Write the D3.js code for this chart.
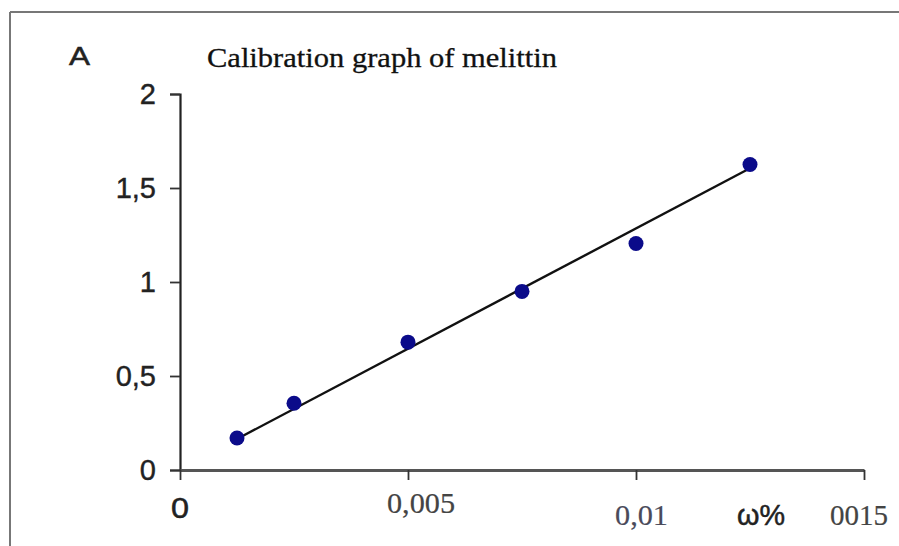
<!DOCTYPE html>
<html>
<head>
<meta charset="utf-8">
<script src="https://cdn.jsdelivr.net/npm/d3@7"></script>
<style>
  body { margin: 0; background: #fff; }
</style>
</head>
<body>
<svg id="chart" width="899" height="546"></svg>
<script>
// calibration data (concentration, absorbance)
var concentration = [0.00125, 0.0025, 0.005, 0.0075, 0.01, 0.0125];
var absorbance = [0.17, 0.355, 0.68, 0.95, 1.205, 1.625];
// fitted line end points
var fitX = [0.00125, 0.0125];
var fitY = [0.165, 1.605];
var yTicks = [0, 0.5, 1, 1.5, 2];
var xTicks = [0, 0.005, 0.01, 0.015];
var xTickLabels = ["0", "0,005", "0,01", "0015"];

var svg = d3.select("#chart");

// frame of the pasted figure
svg.append("line").attr("x1", 10).attr("y1", 12).attr("x2", 899).attr("y2", 12)
    .attr("stroke", "#777").attr("stroke-width", 2);
svg.append("line").attr("x1", 10).attr("y1", 12).attr("x2", 10).attr("y2", 546)
    .attr("stroke", "#777").attr("stroke-width", 2);

var x = d3.scaleLinear().domain([0, 0.015]).range([180, 864]);
var y = d3.scaleLinear().domain([0, 2]).range([470, 94]);

var yAxis = d3.axisLeft(y)
    .tickValues(yTicks)
    .tickSize(10)
    .tickPadding(14)
    .tickFormat(function(d) { return String(d).replace(".", ","); });

var gy = svg.append("g")
    .attr("transform", "translate(" + x(0) + ",0)")
    .call(yAxis);
gy.select(".domain").attr("stroke", "#222").attr("stroke-width", 2.2);
gy.selectAll(".tick line").attr("stroke", "#333").attr("stroke-width", 1.8);
gy.selectAll(".tick text")
    .attr("fill", "#222")
    .attr("stroke", "#222").attr("stroke-width", 0.4)
    .style("font-family", "Arial, 'Liberation Sans', sans-serif")
    .style("font-size", "29px");

var xAxis = d3.axisBottom(x)
    .tickValues(xTicks)
    .tickSize(10)
    .tickSizeOuter(0)
    .tickFormat("");

var gx = svg.append("g")
    .attr("transform", "translate(0," + y(0) + ")")
    .call(xAxis);
gx.select(".domain").attr("stroke", "#555").attr("stroke-width", 2.8);
gx.selectAll(".tick line").attr("stroke", "#333").attr("stroke-width", 1.8);

// x labels were typed in by hand, each in its own font and place
var xLabelStyle = [
    {dx: 0, y: 518, font: "Arial, 'Liberation Sans', sans-serif", size: 29, anchor: "middle", fill: "#222", len: 18, sw: 0.5},
    {dx: -21, y: 513, font: "'Times New Roman', 'Liberation Serif', serif", size: 30, anchor: "start", fill: "#444", len: 68, sw: 0.2},
    {dx: -21, y: 525, font: "'Times New Roman', 'Liberation Serif', serif", size: 30, anchor: "start", fill: "#4a4a5a", len: 53, sw: 0.2},
    {dx: -34, y: 525, font: "'Times New Roman', 'Liberation Serif', serif", size: 30, anchor: "start", fill: "#444", len: 58, sw: 0.2}
];

svg.append("g").selectAll("text")
    .data(xTicks)
    .enter().append("text")
    .attr("x", function(d, i) { return x(d) + xLabelStyle[i].dx; })
    .attr("y", function(d, i) { return xLabelStyle[i].y; })
    .attr("text-anchor", function(d, i) { return xLabelStyle[i].anchor; })
    .attr("fill", function(d, i) { return xLabelStyle[i].fill; })
    .attr("stroke", function(d, i) { return xLabelStyle[i].fill; })
    .attr("stroke-width", function(d, i) { return xLabelStyle[i].sw; })
    .attr("textLength", function(d, i) { return xLabelStyle[i].len; })
    .attr("lengthAdjust", "spacingAndGlyphs")
    .style("font-family", function(d, i) { return xLabelStyle[i].font; })
    .style("font-size", function(d, i) { return xLabelStyle[i].size + "px"; })
    .text(function(d, i) { return xTickLabels[i]; });

svg.append("text")
    .attr("x", 737).attr("y", 525)
    .attr("fill", "#222")
    .attr("stroke", "#222").attr("stroke-width", 0.5)
    .attr("textLength", 48).attr("lengthAdjust", "spacingAndGlyphs")
    .style("font-family", "Arial, 'Liberation Sans', sans-serif")
    .style("font-size", "29px")
    .text("ω%");

// trend line
var line = d3.line()
    .x(function(d) { return x(d[0]); })
    .y(function(d) { return y(d[1]); });

svg.append("path")
    .datum(d3.zip(fitX, fitY))
    .attr("d", line)
    .attr("fill", "none")
    .attr("stroke", "#111")
    .attr("stroke-width", 2.4);

// measured points
svg.append("g").selectAll("circle")
    .data(d3.zip(concentration, absorbance))
    .enter().append("circle")
    .attr("cx", function(d) { return x(d[0]); })
    .attr("cy", function(d) { return y(d[1]); })
    .attr("r", 7.5)
    .attr("fill", "#0b0b8a");

// titles
svg.append("text")
    .attr("x", 69).attr("y", 65)
    .attr("fill", "#222")
    .attr("stroke", "#222").attr("stroke-width", 0.5)
    .attr("textLength", 21).attr("lengthAdjust", "spacingAndGlyphs")
    .style("font-family", "Arial, 'Liberation Sans', sans-serif")
    .style("font-size", "25px")
    .text("A");

svg.append("text")
    .attr("x", 207).attr("y", 67)
    .attr("fill", "#111")
    .attr("stroke", "#111").attr("stroke-width", 0.3)
    .attr("textLength", 350).attr("lengthAdjust", "spacingAndGlyphs")
    .style("font-family", "'Times New Roman', 'Liberation Serif', serif")
    .style("font-size", "27px")
    .text("Calibration graph of melittin");
</script>
</body>
</html>
